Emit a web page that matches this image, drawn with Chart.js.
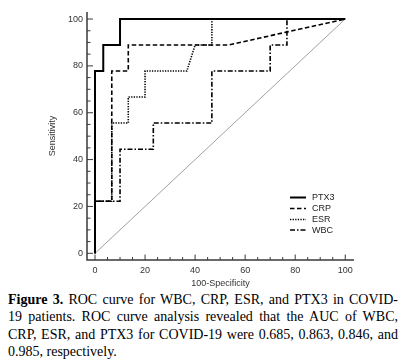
<!DOCTYPE html>
<html>
<head>
<meta charset="utf-8">
<script src="https://cdn.jsdelivr.net/npm/chart.js@4/dist/chart.umd.min.js"></script>
<style>
  html, body { margin:0; padding:0; background:#fff; }
  body { width:407px; height:359px; position:relative; overflow:hidden; }
  #c { position:absolute; left:0; top:0; }
  #cap { position:absolute; left:8px; top:290.5px; width:390px;
         font-family:"Liberation Serif","Times New Roman",serif; font-size:14px; line-height:17.5px; color:#000; }
  #cap .l { text-align:justify; text-align-last:justify; white-space:nowrap; }
  #cap .l.last { text-align-last:left; }
</style>
</head>
<body>
<canvas id="c" width="407" height="290"></canvas>
<div id="cap">
  <div class="l"><b>Figure 3.</b> ROC curve for WBC, CRP, ESR, and PTX3 in COVID-</div>
  <div class="l">19 patients. ROC curve analysis revealed that the AUC of WBC,</div>
  <div class="l">CRP, ESR, and PTX3 for COVID-19 were 0.685, 0.863, 0.846, and</div>
  <div class="l last">0.985, respectively.</div>
</div>
<script>
// ---- data ----
const seriesNames = ["PTX3", "CRP", "ESR", "WBC"];
const ptx3X = [0, 0, 0, 3.3, 3.3, 10, 10, 100];
const ptx3Y = [0, 22.2, 77.8, 77.8, 88.9, 88.9, 100, 100];
const crpX = [0, 0, 6.7, 6.7, 13.3, 13.3, 53.3, 100];
const crpY = [0, 22.2, 22.2, 77.8, 77.8, 88.9, 88.9, 100];
const esrX = [0, 0, 6.7, 6.7, 13.3, 13.3, 20, 20, 36.7, 40, 46.7, 46.7, 100];
const esrY = [0, 22.2, 22.2, 55.6, 55.6, 66.7, 66.7, 77.8, 77.8, 88.9, 88.9, 100, 100];
const wbcX = [0, 0, 10, 10, 23.3, 23.3, 46.7, 46.7, 70, 70, 76.7, 76.7, 100];
const wbcY = [0, 22.2, 22.2, 44.4, 44.4, 55.6, 55.6, 77.8, 77.8, 88.9, 88.9, 100, 100];
const refX = [0, 100];
const refY = [0, 100];
const xTicks = [0, 20, 40, 60, 80, 100];
const yTicks = [0, 20, 40, 60, 80, 100];
const minorStep = 5;

const pts = (xs, ys) => xs.map((x, i) => ({x: x, y: ys[i]}));

const styles = [
  {borderColor:'#000', borderWidth:2, borderDash:[]},
  {borderColor:'#000', borderWidth:1.6, borderDash:[4.5,2.5]},
  {borderColor:'#000', borderWidth:1.6, borderDash:[1.3,1.3]},
  {borderColor:'#000', borderWidth:1.6, borderDash:[5,2,1.5,2]}
];
const dataSets = [pts(ptx3X, ptx3Y), pts(crpX, crpY), pts(esrX, esrY), pts(wbcX, wbcY)];

const datasets = [{
  label: 'ref', data: pts(refX, refY), borderColor:'#a0a0a0', borderWidth:1,
  showLine:true, pointRadius:0, fill:false, order: 10
}];
dataSets.forEach((d, i) => datasets.push(Object.assign({
  label: seriesNames[i], data: d, showLine:true, pointRadius:0, fill:false,
  borderCapStyle:'butt', borderJoinStyle:'miter', order: 4 - i
}, styles[i])));

const axisColor = '#3a3a3a';

const axisPlugin = {
  id: 'axisPlugin',
  afterDraw(chart) {
    const ctx = chart.ctx;
    const xs = chart.scales.x, ys = chart.scales.y;
    const ca = chart.chartArea;
    ctx.save();
    ctx.strokeStyle = axisColor;
    ctx.lineWidth = 1.5;
    ctx.setLineDash([]);
    ctx.beginPath();
    ctx.moveTo(ca.left, ca.top);
    ctx.lineTo(ca.left, ca.bottom);
    ctx.lineTo(ca.right, ca.bottom);
    ctx.stroke();
    ctx.lineWidth = 1;
    for (let v = 0; v <= 100; v += minorStep) {
      const major = v % 20 === 0;
      const py = ys.getPixelForValue(v);
      const px = xs.getPixelForValue(v);
      ctx.beginPath();
      ctx.moveTo(ca.left, py); ctx.lineTo(ca.left + (major ? 6 : 3.5), py);
      ctx.moveTo(px, ca.bottom); ctx.lineTo(px, ca.bottom - (major ? 5.5 : 3));
      ctx.stroke();
    }
    // legend
    const lx0 = 290, lx1 = 306, tx = 312;
    const ly = [197.5, 208.5, 219.5, 230];
    ctx.font = '9px "Liberation Sans", Arial, sans-serif';
    ctx.textBaseline = 'middle';
    ctx.fillStyle = '#222';
    chart.data.datasets.slice(1).forEach((ds, i) => {
      ctx.strokeStyle = ds.borderColor;
      ctx.lineWidth = ds.borderWidth;
      ctx.setLineDash(ds.borderDash || []);
      ctx.beginPath();
      ctx.moveTo(lx0, ly[i]); ctx.lineTo(lx1, ly[i]);
      ctx.stroke();
      ctx.fillText(ds.label, tx, ly[i] + 0.5);
    });
    ctx.restore();
  }
};

new Chart(document.getElementById('c'), {
  type: 'scatter',
  data: { datasets },
  options: {
    responsive: false,
    animation: false,
    devicePixelRatio: 1,
    layout: { padding: { top: 12, right: 53, left: 0, bottom: 0 } },
    plugins: { legend: { display:false }, tooltip: { enabled:false } },
    elements: { line: { tension: 0 } },
    scales: {
      x: {
        type: 'linear', min: -3.2, max: 103.5,
        afterBuildTicks: s => { s.ticks = xTicks.map(v => ({value: v})); },
        afterFit: s => { s.height = 30; },
        grid: { display:false, drawTicks:false },
        border: { display:false },
        ticks: { padding: 5, color: '#333', font: { family:'"Liberation Sans", Arial, sans-serif', size: 9 }, maxRotation:0 },
        title: { display:true, text:'100-Specificity', color:'#333',
                 font: { family:'"Liberation Sans", Arial, sans-serif', size: 9 }, padding: { top:0, bottom:1.5 } }
      },
      y: {
        type: 'linear', min: -2.86, max: 103,
        afterBuildTicks: s => { s.ticks = yTicks.map(v => ({value: v})); },
        afterFit: s => { s.width = 87; },
        grid: { display:false, drawTicks:false },
        border: { display:false },
        ticks: { padding: 4, color: '#333', font: { family:'"Liberation Sans", Arial, sans-serif', size: 9 } },
        title: { display:true, text:'Sensitivity', color:'#333',
                 font: { family:'"Liberation Sans", Arial, sans-serif', size: 9 }, padding: { top:47, bottom:0 } }
      }
    }
  },
  plugins: [axisPlugin]
});
</script>
</body>
</html>
